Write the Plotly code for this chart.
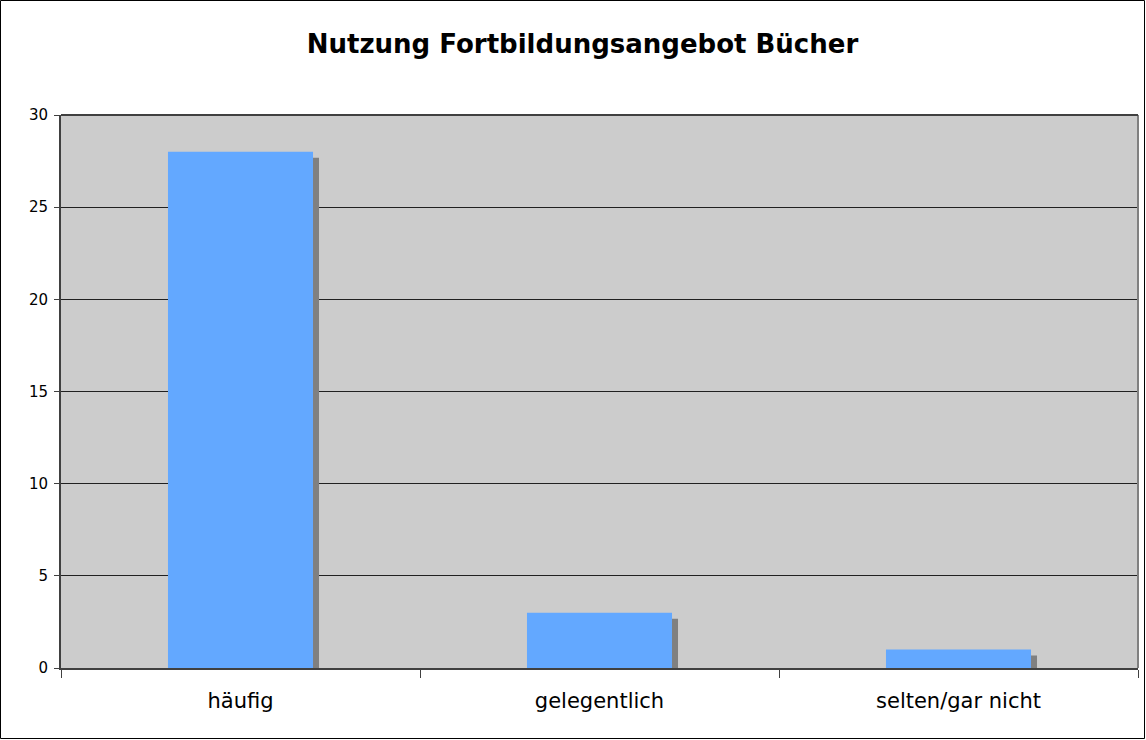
import plotly.graph_objects as go

categories = ["häufig", "gelegentlich", "selten/gar nicht"]
values = [28, 3, 1]
y_ticks = [0, 5, 10, 15, 20, 25, 30]

W, H = 1146, 740
L, R, T, B = 61, 8, 115, 72
pw, ph = W - L - R, H - T - B
ymax = 30
px_per_unit = ph / ymax
shadow_dx = 6 / (pw / len(categories))   # in category units
shadow_dy = 6 / px_per_unit              # in value units
bw = 0.404

fig = go.Figure()
fig.add_trace(go.Bar(
    x=categories, y=[v - shadow_dy for v in values], base=0,
    width=bw, offset=-bw / 2 + shadow_dx,
    marker=dict(color="#808080", line=dict(width=0)),
    hoverinfo="skip", showlegend=False,
))
fig.add_trace(go.Bar(
    x=categories, y=values,
    width=bw, offset=-bw / 2,
    marker=dict(color="#63a8ff", line=dict(width=0)),
    showlegend=False,
))

fig.update_layout(
    width=W, height=H,
    margin=dict(l=L, r=R, t=T, b=B, pad=0),
    barmode="overlay",
    paper_bgcolor="white",
    plot_bgcolor="#cccccc",
    font=dict(family="DejaVu Sans, Verdana, sans-serif", color="black"),
    title=dict(text="<b>Nutzung Fortbildungsangebot Bücher</b>",
               xref="container", x=582.5 / W, xanchor="center",
               y=1 - 44 / H, yanchor="middle",
               font=dict(size=26, color="black")),
    xaxis=dict(
        type="category", tickson="boundaries", ticks="outside", ticklen=8,
        tickcolor="#404040", showline=True, linecolor="#404040", linewidth=2,
        showgrid=False, tickfont=dict(size=21), range=[-0.5, 2.5],
        ticklabelstandoff=13,
    ),
    yaxis=dict(
        range=[0, ymax], tickvals=y_ticks, ticks="outside", ticklen=5,
        tickcolor="#404040", showline=True, linecolor="#404040", linewidth=2,
        showgrid=True, gridcolor="#202020", gridwidth=1,
        tickfont=dict(size=15), zeroline=False, ticklabelstandoff=3,
    ),
    shapes=[
        dict(type="line", xref="paper", yref="paper", x0=1, x1=1, y0=0, y1=1,
             line=dict(color="#808080", width=2)),
        dict(type="line", xref="paper", yref="paper", x0=0, x1=1, y0=1, y1=1,
             line=dict(color="#404040", width=2)),
        dict(type="rect", xref="paper", yref="paper",
             x0=-(L - 0.5) / pw, x1=1 + (R - 1.5) / pw,
             y0=-(B - 1.5) / ph, y1=1 + (T - 0.5) / ph,
             line=dict(color="black", width=1), layer="above"),
    ],
)

fig.write_html("out.html", config={"displayModeBar": False},
               post_script="document.body.style.margin='0';")
